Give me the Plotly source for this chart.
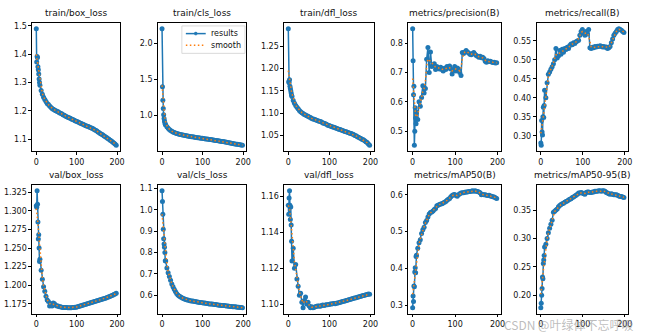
import numpy as np
import plotly.graph_objects as go

# ---------------- data ----------------
epochs = [0, 1, 2, 3, 4, 5, 6, 7, 8, 9] + list(range(12, 199, 3))

titles = ["train/box_loss", "train/cls_loss", "train/dfl_loss", "metrics/precision(B)", "metrics/recall(B)",
          "val/box_loss", "val/cls_loss", "val/dfl_loss", "metrics/mAP50(B)", "metrics/mAP50-95(B)"]

legend_labels = ["results", "smooth"]

train_box_loss = [1.490, 1.372, 1.392, 1.388, 1.356, 1.345, 1.330, 1.312, 1.300, 1.290,
                  1.272, 1.258, 1.248, 1.240, 1.233, 1.226, 1.222, 1.217, 1.212, 1.208,
                  1.205, 1.203, 1.200, 1.198, 1.196, 1.193, 1.191, 1.189, 1.186, 1.184,
                  1.181, 1.179, 1.177, 1.175, 1.173, 1.171, 1.169, 1.167, 1.165, 1.163,
                  1.161, 1.159, 1.157, 1.155, 1.153, 1.151, 1.149, 1.147, 1.145, 1.144,
                  1.142, 1.140, 1.138, 1.136, 1.133, 1.131, 1.128, 1.125, 1.122, 1.119,
                  1.117, 1.114, 1.111, 1.108, 1.105, 1.102, 1.099, 1.096, 1.093, 1.089,
                  1.086, 1.082, 1.078]

train_cls_loss = [2.198, 1.395, 1.205, 1.092, 1.005, 0.955, 0.920, 0.895, 0.875, 0.862,
                  0.838, 0.818, 0.800, 0.787, 0.776, 0.767, 0.759, 0.752, 0.746, 0.741,
                  0.736, 0.732, 0.728, 0.724, 0.721, 0.718, 0.714, 0.711, 0.708, 0.705,
                  0.702, 0.699, 0.697, 0.694, 0.691, 0.688, 0.686, 0.683, 0.681, 0.678,
                  0.676, 0.673, 0.671, 0.668, 0.666, 0.663, 0.661, 0.658, 0.656, 0.653,
                  0.650, 0.648, 0.645, 0.642, 0.639, 0.636, 0.633, 0.630, 0.627, 0.624,
                  0.621, 0.618, 0.614, 0.611, 0.607, 0.604, 0.601, 0.598, 0.595, 0.592,
                  0.589, 0.586, 0.583]

train_dfl_loss = [1.289, 1.170, 1.168, 1.175, 1.160, 1.155, 1.150, 1.145, 1.140, 1.137,
                  1.128, 1.122, 1.117, 1.113, 1.110, 1.106, 1.103, 1.101, 1.099, 1.097,
                  1.096, 1.094, 1.093, 1.091, 1.090, 1.088, 1.087, 1.086, 1.085, 1.084,
                  1.083, 1.082, 1.081, 1.080, 1.078, 1.077, 1.076, 1.075, 1.073, 1.072,
                  1.071, 1.070, 1.069, 1.068, 1.067, 1.066, 1.065, 1.064, 1.063, 1.062,
                  1.061, 1.060, 1.059, 1.058, 1.057, 1.056, 1.055, 1.054, 1.053, 1.052,
                  1.050, 1.049, 1.047, 1.046, 1.044, 1.043, 1.041, 1.040, 1.038, 1.036,
                  1.034, 1.031, 1.028]

precision = [0.849, 0.740, 0.624, 0.653, 0.452, 0.500, 0.580, 0.545, 0.525, 0.565,
             0.540, 0.600, 0.585, 0.615, 0.655, 0.630, 0.645, 0.745, 0.785, 0.700,
             0.770, 0.720, 0.725, 0.730, 0.710, 0.720, 0.715, 0.712, 0.718, 0.710,
             0.705, 0.714, 0.710, 0.720, 0.715, 0.722, 0.712, 0.695, 0.708, 0.720,
             0.705, 0.715, 0.712, 0.700, 0.690, 0.768, 0.765, 0.770, 0.775, 0.770,
             0.766, 0.762, 0.760, 0.765, 0.768, 0.762, 0.758, 0.755, 0.752, 0.755,
             0.750, 0.752, 0.748, 0.738, 0.735, 0.740, 0.737, 0.738, 0.736, 0.734,
             0.735, 0.732, 0.733]

recall = [0.281, 0.275, 0.340, 0.310, 0.302, 0.350, 0.375, 0.348, 0.380, 0.420,
          0.400, 0.440, 0.462, 0.468, 0.475, 0.482, 0.490, 0.500, 0.530, 0.505,
          0.510, 0.525, 0.515, 0.528, 0.520, 0.530, 0.527, 0.533, 0.530, 0.538,
          0.542, 0.540, 0.545, 0.543, 0.548, 0.550, 0.552, 0.565, 0.575, 0.580,
          0.570, 0.565, 0.575, 0.568, 0.580, 0.532, 0.530, 0.533, 0.532, 0.535,
          0.534, 0.536, 0.535, 0.537, 0.536, 0.534, 0.535, 0.533, 0.534, 0.530,
          0.532, 0.535, 0.545, 0.555, 0.565, 0.570, 0.575, 0.580, 0.582, 0.580,
          0.578, 0.575, 0.572]

val_box_loss = [1.307, 1.305, 1.327, 1.309, 1.285, 1.262, 1.268, 1.250, 1.232, 1.235,
                1.220, 1.208, 1.198, 1.192, 1.185, 1.180, 1.178, 1.172, 1.175, 1.172,
                1.176, 1.175, 1.173, 1.172, 1.172, 1.171, 1.171, 1.1705, 1.170, 1.170,
                1.170, 1.170, 1.1698, 1.1697, 1.1697, 1.1698, 1.170, 1.170, 1.1702, 1.1705,
                1.171, 1.1715, 1.172, 1.1725, 1.173, 1.1735, 1.174, 1.1745, 1.175, 1.1755,
                1.176, 1.1765, 1.177, 1.1775, 1.178, 1.1785, 1.179, 1.1795, 1.180, 1.1805,
                1.181, 1.1815, 1.182, 1.1826, 1.1832, 1.1838, 1.1844, 1.185, 1.1858, 1.1866,
                1.1874, 1.1882, 1.189]

val_cls_loss = [1.090, 1.040, 0.980, 0.910, 0.865, 0.840, 0.825, 0.800, 0.762, 0.760,
                0.728, 0.705, 0.688, 0.670, 0.652, 0.640, 0.628, 0.617, 0.608, 0.601,
                0.596, 0.592, 0.589, 0.586, 0.583, 0.581, 0.579, 0.577, 0.576, 0.574,
                0.573, 0.572, 0.571, 0.570, 0.569, 0.568, 0.567, 0.566, 0.565, 0.564,
                0.563, 0.563, 0.562, 0.561, 0.560, 0.559, 0.559, 0.558, 0.557, 0.556,
                0.556, 0.555, 0.554, 0.553, 0.553, 0.552, 0.551, 0.551, 0.550, 0.549,
                0.549, 0.548, 0.547, 0.547, 0.546, 0.545, 0.545, 0.544, 0.543, 0.543,
                0.542, 0.542, 0.541]

val_dfl_loss = [1.155, 1.150, 1.159, 1.163, 1.155, 1.147, 1.154, 1.144, 1.135, 1.124,
                1.131, 1.120, 1.122, 1.114, 1.110, 1.105, 1.106, 1.101, 1.098, 1.102,
                1.104, 1.100, 1.101, 1.099, 1.098, 1.0985, 1.098, 1.0982, 1.0985, 1.0988,
                1.099, 1.099, 1.0988, 1.0992, 1.0995, 1.0993, 1.0995, 1.0997, 1.0996, 1.0998,
                1.1000, 1.1000, 1.1002, 1.1003, 1.1002, 1.1005, 1.1006, 1.1008, 1.1010, 1.1012,
                1.1014, 1.1016, 1.1018, 1.1020, 1.1022, 1.1024, 1.1026, 1.1028, 1.1030, 1.1032,
                1.1034, 1.1036, 1.1038, 1.1040, 1.1042, 1.1044, 1.1046, 1.1048, 1.1050, 1.1052,
                1.1054, 1.1056, 1.1055]

map50 = [0.293, 0.325, 0.310, 0.352, 0.350, 0.390, 0.402, 0.388, 0.432, 0.436,
         0.455, 0.470, 0.478, 0.495, 0.505, 0.512, 0.525, 0.530, 0.540, 0.548,
         0.552, 0.553, 0.556, 0.560, 0.563, 0.570, 0.572, 0.574, 0.575, 0.576,
         0.578, 0.580, 0.582, 0.585, 0.588, 0.590, 0.595, 0.598, 0.600, 0.601,
         0.598, 0.596, 0.600, 0.603, 0.605, 0.606, 0.606, 0.607, 0.608, 0.608,
         0.609, 0.609, 0.610, 0.611, 0.610, 0.611, 0.610, 0.609, 0.608, 0.606,
         0.600, 0.601, 0.600, 0.600, 0.599, 0.598, 0.599, 0.597, 0.596, 0.595,
         0.594, 0.592, 0.590]

map50_95 = [0.178, 0.186, 0.200, 0.212, 0.232, 0.229, 0.256, 0.262, 0.270, 0.285,
            0.290, 0.300, 0.310, 0.318, 0.325, 0.332, 0.346, 0.348, 0.350, 0.352,
            0.356, 0.358, 0.360, 0.361, 0.362, 0.364, 0.365, 0.366, 0.368, 0.369,
            0.370, 0.372, 0.373, 0.375, 0.376, 0.378, 0.380, 0.380, 0.381, 0.380,
            0.379, 0.378, 0.381, 0.382, 0.382, 0.381, 0.381, 0.382, 0.382, 0.383,
            0.383, 0.383, 0.384, 0.384, 0.383, 0.384, 0.384, 0.383, 0.381, 0.380,
            0.379, 0.378, 0.379, 0.378, 0.377, 0.377, 0.377, 0.376, 0.375, 0.374,
            0.374, 0.373, 0.372]

series = [train_box_loss, train_cls_loss, train_dfl_loss, precision, recall,
          val_box_loss, val_cls_loss, val_dfl_loss, map50, map50_95]

ytick_vals = [
    [1.1, 1.2, 1.3, 1.4, 1.5],
    [0.5, 1.0, 1.5, 2.0],
    [1.05, 1.10, 1.15, 1.20, 1.25],
    [0.5, 0.6, 0.7, 0.8],
    [0.30, 0.35, 0.40, 0.45, 0.50, 0.55],
    [1.175, 1.200, 1.225, 1.250, 1.275, 1.300, 1.325],
    [0.6, 0.7, 0.8, 0.9, 1.0, 1.1],
    [1.10, 1.12, 1.14, 1.16],
    [0.3, 0.4, 0.5, 0.6],
    [0.20, 0.25, 0.30, 0.35],
]
ytick_fmt = [".1f", ".1f", ".2f", ".1f", ".2f", ".3f", ".1f", ".2f", ".1f", ".2f"]
xtick_vals = [0, 100, 200]

BLUE, ORANGE = "#1f77b4", "#ff7f0e"
DOT = "1.5px,2.5px"

# ---------------- layout geometry (pixels) ----------------
W, H = 646, 336
col_px = [(32.5, 121), (159, 248), (286, 376), (411, 504), (540, 632)]
row_px = [(22, 150.5), (184.5, 313.5)]


def px(x):
    return x / W


def py(y):
    return 1 - y / H


def smooth(x, y, sigma=3.0):
    x = np.asarray(x, float)
    y = np.asarray(y, float)
    w = np.exp(-((x[:, None] - x[None, :]) ** 2) / (2 * sigma ** 2))
    return (w @ y) / w.sum(axis=1)


fig = go.Figure()
annotations = []
shapes = []
layout_axes = {}

xs = np.asarray(epochs, float)
xpad = 0.05 * (xs.max() - xs.min())
xr = [xs.min() - xpad, xs.max() + xpad]

for i, (title, ys) in enumerate(zip(titles, series)):
    r, c = divmod(i, 5)
    n = i + 1
    xa = "x" if n == 1 else f"x{n}"
    ya = "y" if n == 1 else f"y{n}"
    ys_arr = np.asarray(ys, float)
    sm = smooth(epochs, ys_arr)
    fig.add_trace(go.Scatter(
        x=epochs, y=ys, xaxis=xa, yaxis=ya, mode="lines+markers", name=legend_labels[0],
        line=dict(color=BLUE, width=1.5), marker=dict(color=BLUE, size=5),
        showlegend=False))
    fig.add_trace(go.Scatter(
        x=epochs, y=sm, xaxis=xa, yaxis=ya, mode="lines", name=legend_labels[1],
        line=dict(color=ORANGE, width=1.5, dash=DOT), showlegend=False))

    lo, hi = min(ys_arr.min(), sm.min()), max(ys_arr.max(), sm.max())
    pad = 0.05 * (hi - lo)
    x0, x1 = col_px[c]
    y0, y1 = row_px[r]
    axis_common = dict(showline=True, mirror=True, linecolor="black", linewidth=0.8,
                       ticks="outside", ticklen=3, tickwidth=0.8, tickcolor="black",
                       showgrid=False, zeroline=False,
                       tickfont=dict(family="DejaVu Sans", size=8, color="#111111"))
    layout_axes["xaxis" if n == 1 else f"xaxis{n}"] = dict(
        domain=[px(x0), px(x1)], anchor=ya, range=xr, tickvals=xtick_vals, **axis_common)
    layout_axes["yaxis" if n == 1 else f"yaxis{n}"] = dict(
        domain=[py(y1), py(y0)], anchor=xa, range=[lo - pad, hi + pad],
        tickvals=ytick_vals[i], tickformat=ytick_fmt[i], **axis_common)
    annotations.append(dict(
        text=title, xref="paper", yref="paper", x=px((x0 + x1) / 2), y=py(y0 - 3),
        xanchor="center", yanchor="bottom", showarrow=False,
        font=dict(family="DejaVu Sans", size=9, color="#111111")))

# ---- legend box inside train/cls_loss (matplotlib-style compact legend) ----
lx0, lx1, ly0, ly1 = 183, 246.5, 25, 52.5
shapes.append(dict(type="rect", xref="paper", yref="paper",
                   x0=px(lx0), x1=px(lx1), y0=py(ly1), y1=py(ly0),
                   line=dict(color="#d0d0d0", width=0.8), fillcolor="rgba(255,255,255,0.8)",
                   layer="above"))
row_y = [32.7, 44.3]
shapes.append(dict(type="line", xref="paper", yref="paper",
                   x0=px(187), x1=px(207), y0=py(row_y[0]), y1=py(row_y[0]),
                   line=dict(color=BLUE, width=1.5), layer="above"))
shapes.append(dict(type="circle", xref="paper", yref="paper",
                   x0=px(195.5), x1=px(198.5), y0=py(row_y[0] + 1.5), y1=py(row_y[0] - 1.5),
                   line=dict(color=BLUE, width=0.5), fillcolor=BLUE, layer="above"))
shapes.append(dict(type="line", xref="paper", yref="paper",
                   x0=px(187), x1=px(207), y0=py(row_y[1]), y1=py(row_y[1]),
                   line=dict(color=ORANGE, width=1.5, dash=DOT), layer="above"))
for lab, yy in zip(legend_labels, row_y):
    annotations.append(dict(
        text=lab, xref="paper", yref="paper", x=px(210.5), y=py(yy),
        xanchor="left", yanchor="middle", showarrow=False,
        font=dict(family="DejaVu Sans", size=8, color="#111111")))

# ---- watermark ----
annotations.append(dict(
    text="CSDN @叶绿体不忘呼吸", xref="paper", yref="paper", x=px(639), y=py(324),
    xanchor="right", yanchor="middle", showarrow=False,
    font=dict(family="Noto Sans CJK SC", size=12, color="rgba(160,160,160,0.7)")))

fig.update_layout(
    width=W, height=H, margin=dict(l=0, r=0, t=0, b=0),
    paper_bgcolor="white", plot_bgcolor="white",
    showlegend=False,
    annotations=annotations, shapes=shapes,
    **layout_axes)

fig.write_html("out.html")
